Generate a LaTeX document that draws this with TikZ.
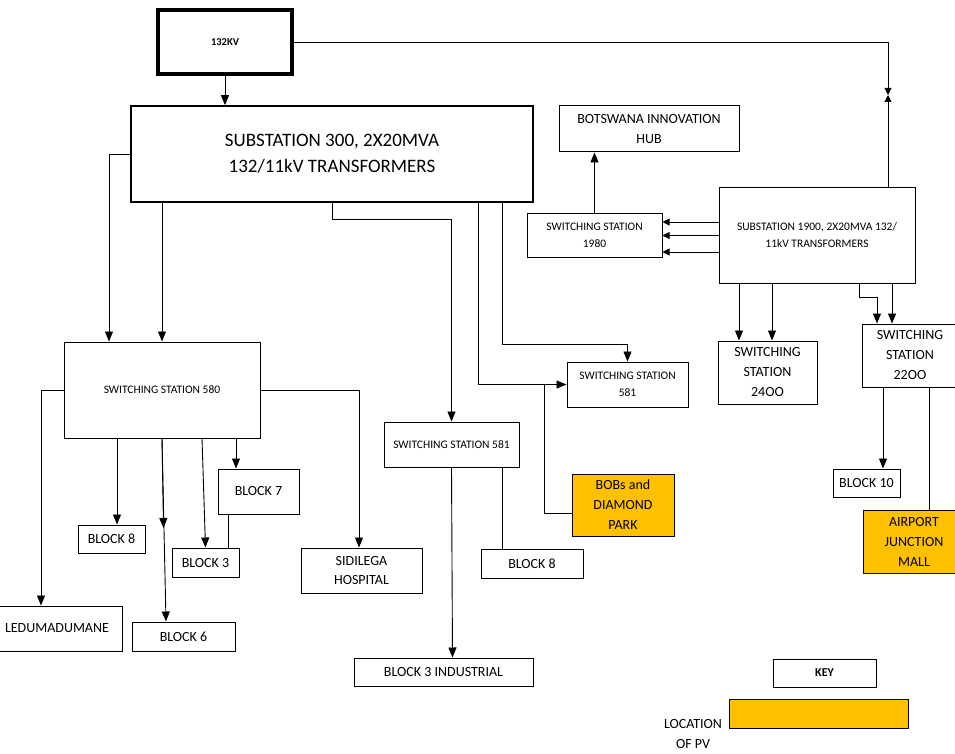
\documentclass[tikz,border=0pt]{standalone}
\usepackage{fontspec}
\setmainfont{Carlito}
\usetikzlibrary{arrows.meta}
\definecolor{pvorange}{HTML}{FFC000}
\begin{document}
\begin{tikzpicture}[x=1pt,y=-1pt,
  box/.style={draw, line width=1pt, inner sep=0pt, align=center, font=\fontsize{14}{20}\selectfont},
  small/.style={font=\fontsize{11.5}{17}\selectfont},
  sz/.style 2 args={minimum width=#1pt, minimum height=#2pt},
  pv/.style={fill=pvorange},
  arr/.style={-{Triangle[length=10pt,width=8pt]}},
  sarr/.style={-{Triangle[length=7pt,width=7pt]}},
  line/.style={line width=0.9pt}]
\useasboundingbox (0,0) rectangle (955,754);
% top
\node[box, sz={134}{64}, line width=3.5pt, font=\bfseries\fontsize{10.5}{13}\selectfont] (k132) at (225,42) {132KV};
\node[box, sz={402}{96}, line width=1.6pt, font=\fontsize{19}{26}\selectfont] (s300) at (332,154) {SUBSTATION 300, 2X20MVA\\132/11kV TRANSFORMERS};
\node[box, small, sz={196}{95}] (s1900) at (817,235.5) {SUBSTATION 1900, 2X20MVA 132/\\11kV TRANSFORMERS};
\node[box, small, sz={135}{44}] (ss1980) at (594.5,235) {SWITCHING STATION\\1980};
\node[box, sz={180}{46}] (bih) at (649,129) {BOTSWANA INNOVATION\\HUB};
\node[box, sz={99}{63}] (ss2400) at (767.5,372.5) {SWITCHING\\STATION\\24OO};
\node[box, sz={96}{63}] (ss2200) at (910,355.5) {SWITCHING\\STATION\\22OO};
\node[box, sz={67}{28}] (b10) at (866.5,483) {BLOCK 10};
\node[box, pv, sz={102}{63}] (ajm) at (914,541.5) {AIRPORT\\JUNCTION\\MALL};
% middle
\node[box, small, sz={196}{96}] (ss580) at (162,390) {SWITCHING STATION 580};
\node[box, small, sz={121}{45}] (ss581a) at (627.5,384.5) {SWITCHING STATION\\581};
\node[box, small, sz={135}{45}] (ss581b) at (451.5,444.5) {SWITCHING STATION 581};
\node[box, pv, sz={102}{62}] (bobs) at (623,505) {BOBs and\\DIAMOND\\PARK};
\node[box, sz={102}{29}] (b8r) at (532,563.5) {BLOCK 8};
\node[box, sz={179}{28}] (b3i) at (443.5,672) {BLOCK 3 INDUSTRIAL};
% left
\node[box, sz={130}{45}] (ledu) at (57,628.5) {LEDUMADUMANE};
\node[box, sz={67}{28}] (b8l) at (111.5,539) {BLOCK 8};
\node[box, sz={103}{29}] (b6) at (183.5,636.5) {BLOCK 6};
\node[box, sz={67}{29}] (b3) at (205.5,562.5) {BLOCK 3};
\node[box, sz={81}{45}] (b7) at (258.5,491.5) {BLOCK 7};
\node[box, sz={121}{45}, font=\fontsize{14}{19}\selectfont] (sid) at (361.5,570.5) {SIDILEGA\\HOSPITAL};
% key
\node[box, sz={103}{28}, font=\bfseries\fontsize{12}{14}\selectfont] (key) at (824.5,673) {KEY};
\node[box, pv, sz={179}{29}] (pvkey) at (818.5,713.5) {};
\node[align=center, inner sep=0pt, font=\fontsize{14}{20}\selectfont] (loc) at (693,734) {LOCATION\\OF PV};

% connectors
\coordinate (m) at (888,95);
\draw[line, arr] (k132.south) -- (k132.south |- s300.north);
\draw[line, sarr] (k132.east) -| (m);
\draw[line, sarr] (s1900.north -| m) -- (m);

\draw[line, arr] (s300.west) -| ([xshift=-53pt]ss580.north);
\draw[line, arr] (s300.south -| ss580.north) -- (ss580.north);
\draw[line, arr] (s300.south) -- ++(0,17) -| (ss581b.north);
\draw[line, arr] ([xshift=146pt]s300.south) |- (ss581a.west);
\draw[line, arr] ([xshift=170pt]s300.south) -- ++(0,142) -| (ss581a.north);
\coordinate (j1) at (544,384.5);
\draw[line] (j1) |- ([yshift=-8pt]bobs.west);

\draw[line, arr] (ss1980.north) -- (ss1980.north |- bih.south);
\draw[line, sarr] ([yshift=13.5pt]s1900.west) -- ([yshift=13.5pt]s1900.west -| ss1980.east);
\draw[line, sarr] (s1900.west) -- (s1900.west -| ss1980.east);
\draw[line, sarr] ([yshift=-16.5pt]s1900.west) -- ([yshift=-16.5pt]s1900.west -| ss1980.east);

\draw[line, arr] ([xshift=-78pt]s1900.south) -- ([xshift=-78pt]s1900.south |- ss2400.north);
\draw[line, arr] ([xshift=-45pt]s1900.south) -- ([xshift=-45pt]s1900.south |- ss2400.north);
\draw[line, arr] ([xshift=42pt]s1900.south) -- ++(0,14) -| ([xshift=-33pt]ss2200.north);
\draw[line, arr] ([xshift=75pt]s1900.south) -- ([xshift=75pt]s1900.south |- ss2200.north);
\draw[line, arr] ([xshift=-27pt]ss2200.south) -- ([xshift=-27pt]ss2200.south |- b10.north);
\draw[line] ([xshift=19pt]ss2200.south) -- ([xshift=19pt]ss2200.south |- ajm.north);

\draw[line, arr] (ss580.west) -| ([xshift=-16pt]ledu.north);
\draw[line, arr] ([xshift=-45pt]ss580.south) -- ([xshift=-45pt]ss580.south |- b8l.north);
\coordinate (mid6) at (163.5,528);
\draw[line, arr] (ss580.south) -- (mid6);
\draw[line, arr] (ss580.south) -- ([xshift=-17.5pt]b6.north);
\draw[line, arr] ([xshift=40pt]ss580.south) -- (b3.north);
\draw[line, arr] ([xshift=74pt]ss580.south) -- ([xshift=74pt]ss580.south |- b7.north);
\draw[line] ([xshift=-30.5pt]b7.south) -- ([xshift=-30.5pt]b7.south |- b3.north);
\draw[line, arr] (ss580.east) -| ([xshift=-2.5pt]sid.north);

\draw[line, arr] (ss581b.south) -- ([xshift=9pt]b3i.north);
\draw[line] ([xshift=50.5pt]ss581b.south) -- ([xshift=50.5pt]ss581b.south |- b8r.north);
\end{tikzpicture}
\end{document}
